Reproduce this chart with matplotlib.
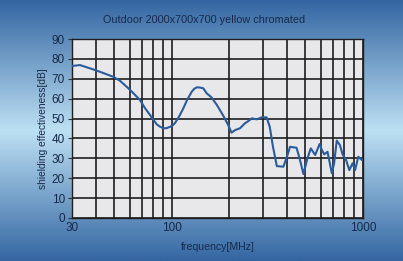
import numpy as np
import matplotlib
matplotlib.use("Agg")
import matplotlib.pyplot as plt
from matplotlib.colors import LinearSegmentedColormap
from matplotlib.ticker import FixedLocator, NullFormatter

plt.rcParams['font.family'] = ['Liberation Sans', 'DejaVu Sans']

freq = [30, 33, 38.8, 44, 49.3, 53.5, 59.2, 63.5, 68.1, 72, 76.8, 80, 83.3, 87, 90.9, 94, 97.9,
        101, 104, 109, 114.8, 120, 127, 131, 135, 140, 146, 152, 161, 172, 186, 197, 205, 214,
        227, 241, 250, 262, 278, 295, 313, 325, 338, 354, 383, 400, 415, 449, 468, 488, 512,
        533, 562, 593, 609, 627, 652, 687, 706, 729, 757, 782, 815, 848, 882, 909, 945, 986, 1000]
se_db = [76.4, 76.9, 74.7, 72.8, 71.0, 69.0, 65.2, 62.3, 59.3, 55.5, 51.8, 49.4, 47.1, 45.8, 45.1,
         45.2, 45.9, 46.6, 47.9, 51.0, 55.2, 59.3, 63.5, 65.0, 65.7, 65.6, 65.2, 62.7, 60.7, 56.8,
         51.3, 46.8, 42.9, 44.2, 45.1, 47.6, 48.6, 50.1, 49.6, 50.6, 50.6, 45.9, 35.8, 26.1, 25.8,
         30.8, 35.8, 35.3, 29.2, 22.1, 30.0, 35.0, 31.7, 37.2, 34.2, 32.0, 33.3, 22.5, 27.5, 38.9,
         36.7, 32.0, 29.2, 24.1, 27.5, 24.1, 30.8, 29.2, 29.5]

title = "Outdoor 2000x700x700 yellow chromated"
x_ticks = [30, 100, 1000]
y_ticks = list(range(0, 100, 10))

text_col = "#17294a"

fig = plt.figure(figsize=(4.03, 2.61), dpi=100)

# blue gradient background, light band in the middle
bg = fig.add_axes([0, 0, 1, 1], zorder=-10)
cmap = LinearSegmentedColormap.from_list("bg", [(0, "#3466a2"), (0.5, "#bde0f3"), (1, "#3466a2")])
grad = np.linspace(0, 1, 256).reshape(-1, 1)
bg.imshow(grad, aspect="auto", cmap=cmap, extent=[0, 1, 0, 1])
bg.axis("off")

ax = fig.add_axes([72 / 403, 1 - 218 / 261, (363 - 72) / 403, (218 - 39) / 261])
ax.set_facecolor("#e8e8ea")
ax.plot(freq, se_db, color="#2a5b9c", lw=1.5, zorder=3, solid_joinstyle="round")

ax.set_xscale("log")
ax.set_xlim(30, 1000)
ax.set_ylim(0, 90)
ax.xaxis.set_major_locator(FixedLocator(x_ticks))
ax.set_xticklabels([str(t) for t in x_ticks])
minors = list(range(40, 100, 10)) + list(range(200, 1000, 100)) + [100]
ax.xaxis.set_minor_locator(FixedLocator(minors))
ax.xaxis.set_minor_formatter(NullFormatter())
ax.set_yticks(y_ticks)

ax.grid(True, which="both", axis="x", color="#1e1e1e", lw=1.2)
ax.grid(True, which="major", axis="y", color="#1e1e1e", lw=1.2)
ax.set_axisbelow(True)

for s in ax.spines.values():
    s.set_color("#1e1e1e")
    s.set_linewidth(1.0)

ax.tick_params(axis="y", which="major", length=3, width=0.8, color="#333333",
               labelsize=8.5, labelcolor=text_col, pad=2)
ax.tick_params(axis="x", which="major", length=0, labelsize=8.5, labelcolor=text_col, pad=3)
ax.tick_params(axis="x", which="minor", length=0)

ax.set_xlabel("frequency[MHz]", fontsize=7.6, color=text_col, labelpad=6)
ax.set_ylabel("shielding effectiveness[dB]", fontsize=7.3, color=text_col, labelpad=3)
fig.text(204 / 403, 1 - 20 / 261, title, ha="center", va="center", fontsize=7.8, color=text_col)

fig.savefig("out.png", dpi=100)
